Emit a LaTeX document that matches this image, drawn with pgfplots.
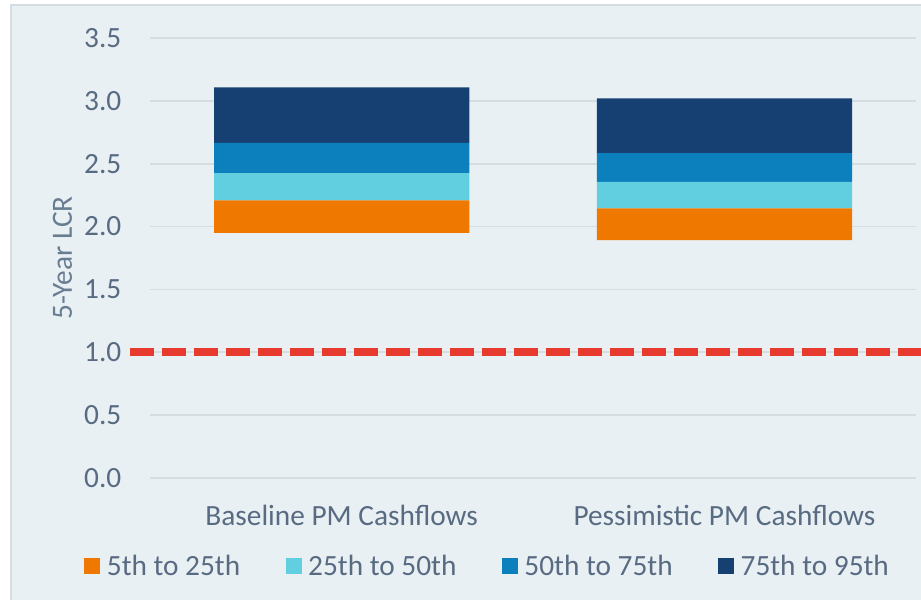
\documentclass[border=0pt]{standalone}
\usepackage{fontspec}
\setmainfont{Carlito}
\usepackage{pgfplots}
\pgfplotsset{compat=1.18}
\definecolor{bg}{RGB}{232,240,243}
\definecolor{bordc}{RGB}{214,220,225}
\definecolor{gridc}{RGB}{213,221,226}
\definecolor{txt}{RGB}{89,107,130}
\definecolor{ylab}{RGB}{104,124,146}
\definecolor{cOrange}{RGB}{238,120,0}
\definecolor{cCyan}{RGB}{97,207,223}
\definecolor{cBlue}{RGB}{11,128,189}
\definecolor{cNavy}{RGB}{23,64,114}
\definecolor{cRed}{RGB}{232,58,47}
\begin{document}
\begin{tikzpicture}
\useasboundingbox (0,0) rectangle (690.75pt,450pt);
\fill[white] (0,0) rectangle (690.75pt,450pt);
\fill[bg] (7.5pt,0) rectangle (690.75pt,446.25pt);
\draw[bordc, line width=1.5pt] (8.25pt,0) -- (8.25pt,446.25pt) -- (690.75pt,446.25pt);
\begin{axis}[
  at={(112.725pt,91.5pt)}, anchor=south west,
  scale only axis, width=574.125pt, height=330pt,
  clip=false,
  ybar stacked, bar width=0.6667,
  xmin=-0.5, xmax=1.5, ymin=0, ymax=3.5,
  xtick={0,1},
  xticklabels={Baseline PM Cashflows, Pessimistic PM Cashflows},
  ytick={0,0.5,1,1.5,2,2.5,3,3.5},
  /pgf/number format/assume math mode=true,
  yticklabel={\pgfmathprintnumber[fixed,fixed zerofill,precision=1]{\tick}},
  axis line style={draw=none},
  major tick length=0pt,
  ymajorgrids, grid style={gridc, line width=1.3pt},
  tick label style={font=\fontsize{22pt}{24pt}\selectfont, text=txt, inner sep=0pt},
  yticklabel style={anchor=east, xshift=-21.5pt},
  xticklabel style={anchor=base, yshift=-35.25pt},
  ylabel={5-Year LCR},
  ylabel style={at={(axis description cs:-0.1147,0.5)}, anchor=center, font=\fontsize{22pt}{24pt}\selectfont, text=ylab, inner sep=0pt},
  legend columns=4,
  legend image code/.code={\fill[#1] (0pt,-6pt) rectangle (12pt,6pt);},
  legend style={draw=none, fill=none, at={(axis description cs:-0.0863,-0.2007)}, anchor=west,
    inner sep=0pt, outer sep=0pt,
    font=\fontsize{22pt}{24pt}\selectfont, text=txt,
    nodes={inner sep=0pt},
    /tikz/every odd column/.append style={column sep=5pt},
    /tikz/every even column/.append style={column sep=34pt}},
]
% invisible base
\addplot[draw=none, fill=none, forget plot] coordinates {(0,1.949) (1,1.893)};
\addplot[draw=none, fill=cOrange] coordinates {(0,0.260) (1,0.252)};
\addlegendentry{5th to 25th}
\addplot[draw=none, fill=cCyan] coordinates {(0,0.217) (1,0.210)};
\addlegendentry{25th to 50th}
\addplot[draw=none, fill=cBlue] coordinates {(0,0.239) (1,0.230)};
\addlegendentry{50th to 75th}
\addplot[draw=none, fill=cNavy] coordinates {(0,0.443) (1,0.435)};
\addlegendentry{75th to 95th}
\addplot[sharp plot, stack plots=false, forget plot, cRed, line width=6pt, dash pattern=on 18pt off 6pt] coordinates {(-0.553,1) (1.53,1)};
\end{axis}
\end{tikzpicture}
\end{document}
